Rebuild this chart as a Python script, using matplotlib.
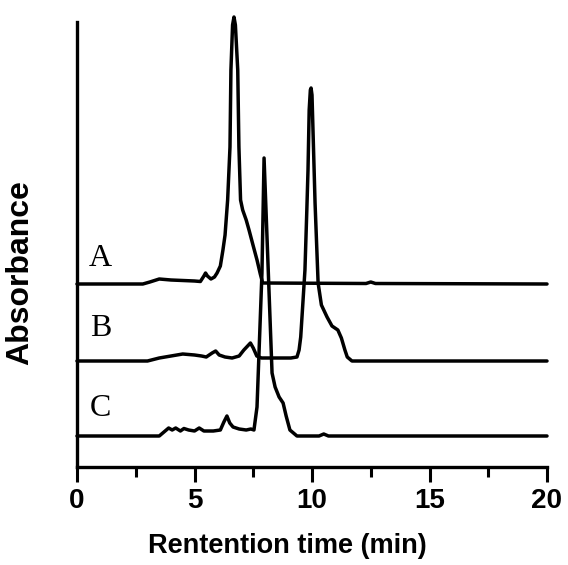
import matplotlib
matplotlib.use("Agg")
import matplotlib.pyplot as plt
from matplotlib.ticker import MultipleLocator

# ---- data (retention time in min, signal above own baseline, arbitrary units) ----
time_A = [0, 2.8, 3.1, 3.5, 4.0, 4.5, 5.0, 5.25, 5.4, 5.47, 5.55, 5.7, 5.85, 5.96,
          6.1, 6.21, 6.3, 6.41, 6.51, 6.55, 6.62, 6.68, 6.74, 6.84, 6.89, 6.96,
          7.05, 7.2, 7.32, 7.5, 7.66, 7.8, 7.9, 12.3, 12.5, 12.7, 20]
sig_A = [0, 0, 2, 5, 4, 3.5, 3, 2.5, 8, 11, 8, 5, 7, 11,
         18, 34, 49, 84, 137, 214, 259, 267, 259, 214, 137, 84,
         74, 64, 54, 38, 24, 10, 1, 0.5, 2, 0.5, 0]

time_B = [0, 3.0, 3.5, 4.0, 4.5, 5.0, 5.3, 5.5, 5.75, 5.9, 6.05, 6.3, 6.6, 6.9,
          7.1, 7.3, 7.38, 7.5, 7.65, 7.85, 8.5, 9.1, 9.36, 9.45, 9.52, 9.62,
          9.70, 9.78, 9.83, 9.88, 9.93, 9.96, 10.0, 10.13, 10.26, 10.4, 10.64,
          10.85, 11.1, 11.25, 11.4, 11.5, 11.7, 15, 20]
sig_B = [0, 0, 3, 5, 7, 6, 5, 4, 8, 10, 6, 4, 3, 5,
         11, 16, 18, 13, 5, 3, 3, 3, 4, 11, 24, 61,
         91, 151, 191, 251, 271, 273, 266, 158, 78, 56, 44,
         35, 31, 23, 11, 4, 0, 0, 0]

time_C = [0, 3.5, 3.7, 3.9, 4.05, 4.2, 4.4, 4.55, 4.75, 5.0, 5.2, 5.4, 5.8, 6.1,
          6.25, 6.38, 6.5, 6.64, 6.9, 7.2, 7.4, 7.53, 7.66, 7.87, 7.96, 8.09,
          8.3, 8.43, 8.6, 8.77, 8.9, 9.06, 9.36, 10.3, 10.5, 10.7, 20]
sig_C = [0, 0, 4, 8, 6, 8, 5, 7.5, 6, 5, 8, 5, 5, 6,
         14, 20, 13, 9, 7, 6, 7, 6, 29, 163, 278, 196,
         63, 49, 39, 33, 20, 6, 0, 0, 2, 0, 0]

series_labels = ["A", "B", "C"]
tick_values = [0, 5, 10, 15, 20]
x_label = "Rentention time (min)"
y_label = "Absorbance"

# layout / style constants
offsets = [183, 106, 31]
label_y = [208, 139, 58]

fig = plt.figure(figsize=(5.68, 5.65), dpi=100)
ax = fig.add_axes([77/568, (565-467)/565, 470/568, 445/565])

for t, s, off in zip([time_A, time_B, time_C], [sig_A, sig_B, sig_C], offsets):
    ax.plot(t, [v + off for v in s], color="black", lw=2.5,
            solid_joinstyle="round", solid_capstyle="round", clip_on=False)

for lab, ly in zip(series_labels, label_y):
    ax.text(1.0, ly, lab, fontsize=23, family="Liberation Serif",
            ha="center", va="center", color="black")

ax.set_xlim(0, 20)
ax.set_ylim(0, 445)
ax.set_xticks(tick_values)
ax.set_xticklabels([str(v) for v in tick_values], fontsize=20,
                   fontweight="bold", family="Liberation Sans")
ax.xaxis.set_minor_locator(MultipleLocator(2.5))
ax.tick_params(axis="x", which="major", direction="out", length=11, width=2.2, pad=4)
ax.tick_params(axis="x", which="minor", direction="out", length=7, width=2.2)
ax.set_yticks([])

for side in ["top", "right"]:
    ax.spines[side].set_visible(False)
for side in ["left", "bottom"]:
    ax.spines[side].set_linewidth(2.4)

ax.set_xlabel(x_label, fontsize=19.5, fontweight="bold", family="Liberation Sans")
ax.xaxis.set_label_coords(0.447, -0.148)
ax.set_ylabel(y_label, fontsize=23, fontweight="bold", family="Liberation Sans")
ax.yaxis.set_label_coords(-0.088, 0.436)

fig.savefig("out.png", dpi=100, facecolor="white")
